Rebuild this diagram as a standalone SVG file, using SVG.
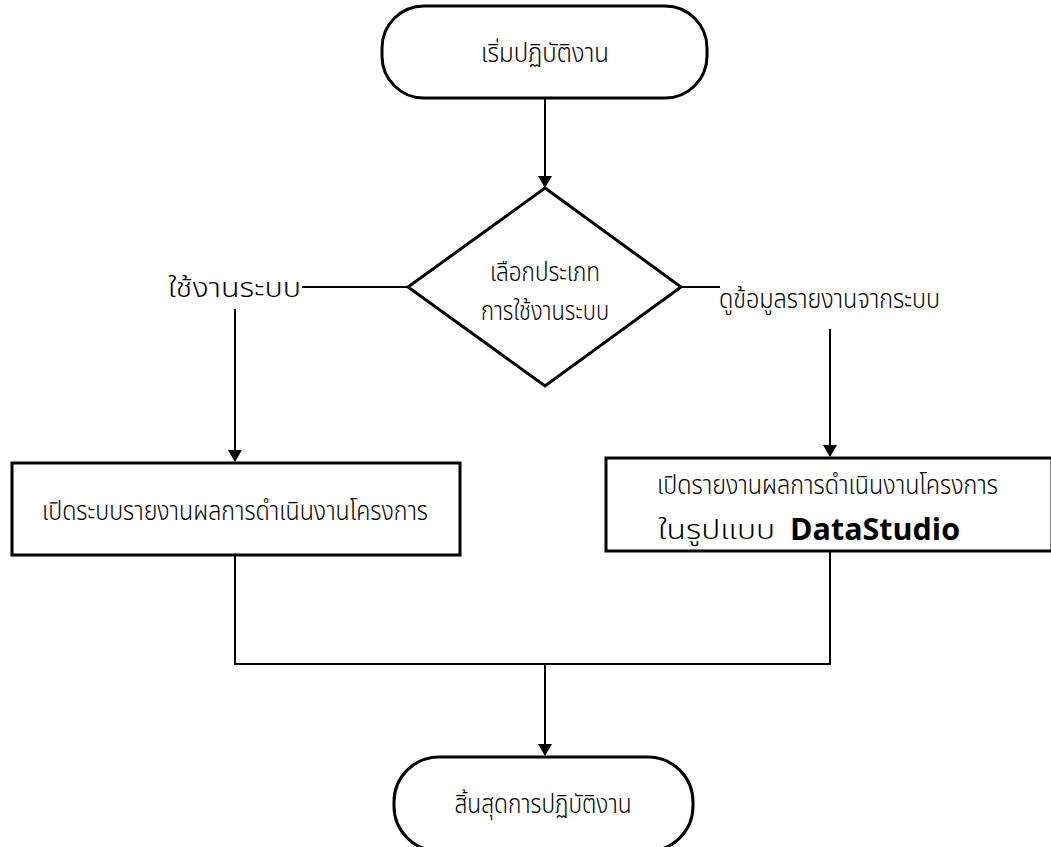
<svg xmlns="http://www.w3.org/2000/svg" width="1051" height="847" viewBox="0 0 1051 847">
<style>
.shape{fill:#fff;stroke:#000;stroke-width:3}
.conn{fill:none;stroke:#000;stroke-width:2}
.th{font-family:'Noto Sans Thai','Noto Sans','DejaVu Sans',sans-serif;font-size:26px;font-weight:300;fill:#000}
.ds{font-family:'Open Sans','Noto Sans',sans-serif;font-weight:bold;font-size:30px;fill:#000}
</style>
<defs>
<marker id="arr" markerWidth="12" markerHeight="14" refX="11" refY="7" orient="auto" markerUnits="userSpaceOnUse">
<path d="M0,0 L12,7 L0,14 Z" fill="#000"/>
</marker>
</defs>
<rect width="1051" height="847" fill="#fff"/>
<g id="connectors">
<line class="conn" x1="545" y1="98" x2="545" y2="187" marker-end="url(#arr)"/>
<line class="conn" x1="408" y1="287" x2="302" y2="287"/>
<line class="conn" x1="235" y1="309" x2="235" y2="461" marker-end="url(#arr)"/>
<line class="conn" x1="681" y1="287" x2="720" y2="287"/>
<line class="conn" x1="830" y1="329" x2="830" y2="456" marker-end="url(#arr)"/>
<polyline class="conn" points="235,555 235,664 830,664 830,551"/>
<line class="conn" x1="545" y1="664" x2="545" y2="755" marker-end="url(#arr)"/>
<text class="th" x="168" y="297" textLength="133" lengthAdjust="spacingAndGlyphs">ใช้งานระบบ</text>
<text class="th" x="719" y="308" textLength="221" lengthAdjust="spacingAndGlyphs">ดูข้อมูลรายงานจากระบบ</text>
</g>
<g id="start">
<rect class="shape" x="382" y="6" width="325" height="92" rx="42" ry="42"/>
<text class="th" x="545" y="62" text-anchor="middle" textLength="128" lengthAdjust="spacingAndGlyphs">เริ่มปฏิบัติงาน</text>
</g>
<g id="decision">
<polygon class="shape" points="545,188 681,287 545,386 408,287"/>
<text class="th" x="545" y="281" text-anchor="middle" textLength="110" lengthAdjust="spacingAndGlyphs">เลือกประเภท</text>
<text class="th" x="545" y="320" text-anchor="middle" textLength="128" lengthAdjust="spacingAndGlyphs">การใช้งานระบบ</text>
</g>
<g id="use-system">
<rect class="shape" x="12" y="463" width="448" height="92"/>
<text class="th" x="235" y="520" text-anchor="middle" textLength="386" lengthAdjust="spacingAndGlyphs">เปิดระบบรายงานผลการดำเนินงานโครงการ</text>
</g>
<g id="view-report">
<rect class="shape" x="606" y="458" width="446" height="93"/>
<text class="th" x="657" y="494" textLength="341" lengthAdjust="spacingAndGlyphs">เปิดรายงานผลการดำเนินงานโครงการ</text>
<text class="th" x="658" y="539" textLength="117" lengthAdjust="spacingAndGlyphs">ในรูปแบบ</text>
<text class="ds" x="790" y="540" textLength="170" lengthAdjust="spacingAndGlyphs">DataStudio</text>
</g>
<g id="end">
<rect class="shape" x="394" y="757" width="299" height="94" rx="45" ry="45"/>
<text class="th" x="543" y="813" text-anchor="middle" textLength="177" lengthAdjust="spacingAndGlyphs">สิ้นสุดการปฏิบัติงาน</text>
</g>
</svg>
